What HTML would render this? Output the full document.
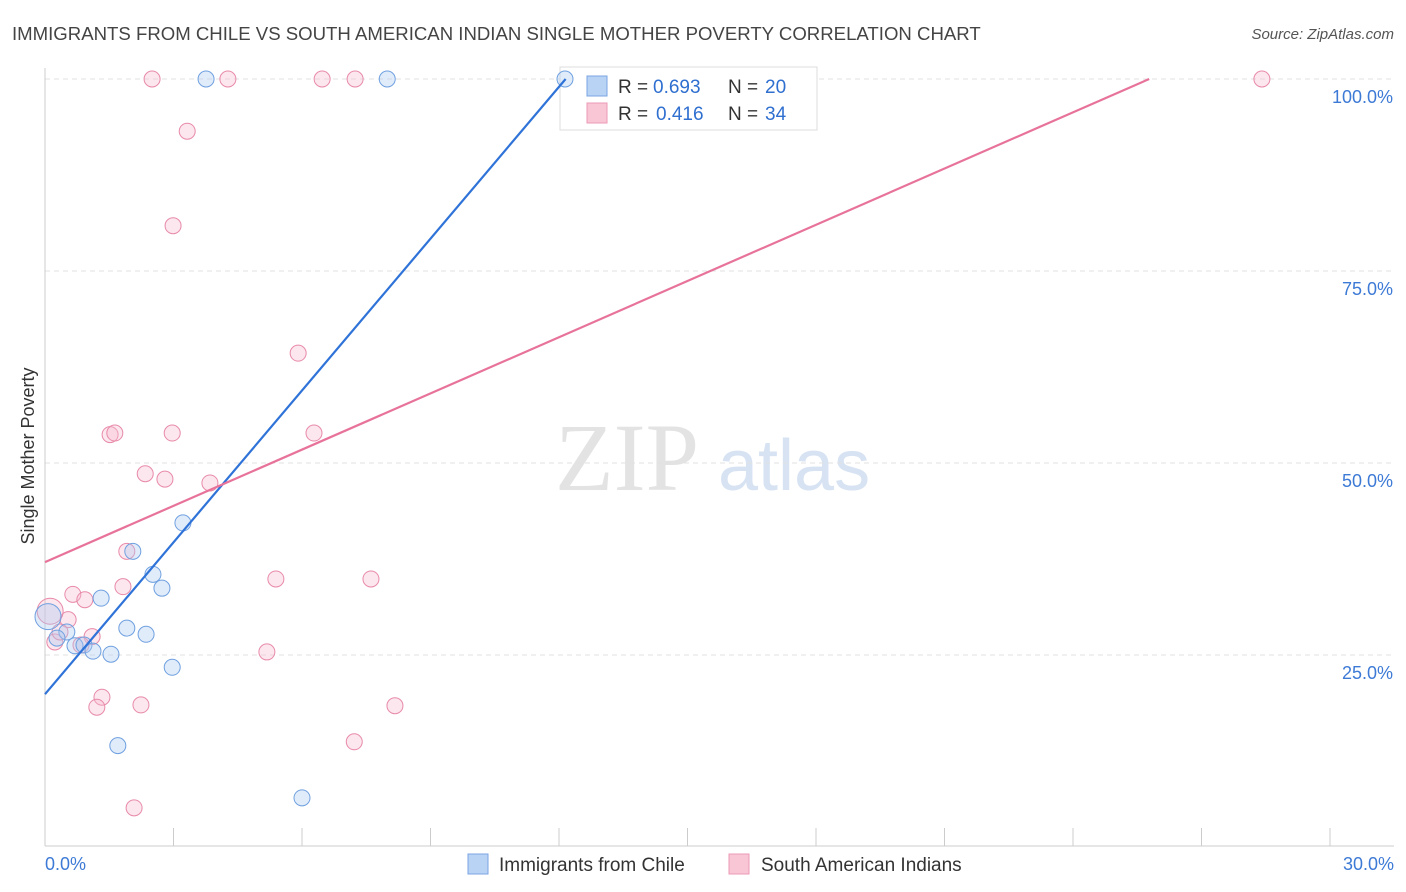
<!DOCTYPE html>
<html><head><meta charset="utf-8"><style>
body{margin:0;background:#fff;font-family:"Liberation Sans",sans-serif;}
svg{display:block}
</style></head><body>
<svg id="chart" width="1406" height="892">
<text x="12" y="40" font-size="18.6" fill="#444">IMMIGRANTS FROM CHILE VS SOUTH AMERICAN INDIAN SINGLE MOTHER POVERTY CORRELATION CHART</text>
<text x="1394" y="39" font-size="15" fill="#555" font-style="italic" text-anchor="end">Source: ZipAtlas.com</text>
<text x="34" y="456" font-size="18" fill="#333" text-anchor="middle" transform="rotate(-90 34 456)">Single Mother Poverty</text>
<text x="555" y="490" font-size="96" fill="#e3e3e3" font-family="Liberation Serif,serif">ZIP</text>
<text x="718" y="490" font-size="72" fill="#d7e3f3">atlas</text>
<g id="grid"></g>
<g>
<rect x="560" y="67" width="257" height="63" fill="#fff" stroke="#ddd"/>
<rect x="587" y="76" width="20" height="20" fill="#b9d3f5" stroke="#7aa6e2"/>
<rect x="587" y="103" width="20" height="20" fill="#f9c6d6" stroke="#ec9ab5"/>
<g font-size="19" fill="#333">
<text x="618" y="93">R =</text>
<text x="653" y="93" fill="#2f6fd0">0.693</text>
<text x="728" y="93">N =</text>
<text x="765" y="93" fill="#2f6fd0">20</text>
<text x="618" y="120">R =</text>
<text x="656" y="120" fill="#2f6fd0">0.416</text>
<text x="728" y="120">N =</text>
<text x="765" y="120" fill="#2f6fd0">34</text>
</g>
</g>
<g id="marks"></g>
<g>
<rect x="468" y="854" width="20" height="20" fill="#b9d3f5" stroke="#7aa6e2"/>
<text x="499" y="871" font-size="19" fill="#333">Immigrants from Chile</text>
<rect x="729" y="854" width="20" height="20" fill="#f9c6d6" stroke="#ec9ab5"/>
<text x="761" y="871" font-size="19" fill="#333">South American Indians</text>
</g>
</svg>
<script>
const blueX=[3.76,7.99,12.14,3.22,2.05,2.52,2.73,1.31,1.91,2.36,0.51,0.28,0.70,0.91,1.12,1.54,2.97,1.70,6.0,0.07];
const blueY=[100,100,100,42.2,38.5,35.5,33.7,32.4,28.5,27.7,28.0,27.2,26.2,26.3,25.5,25.1,23.4,13.2,6.4,30.0];
const pinkX=[2.50,4.27,6.47,7.24,28.41,3.32,2.99,5.91,1.52,1.63,2.97,6.28,2.34,2.80,3.85,1.91,1.82,0.65,0.93,5.39,7.61,0.54,1.10,0.23,0.12,5.18,1.33,1.21,2.24,8.17,7.22,2.08,0.35,0.84];
const pinkY=[100,100,100,100,100,93.2,80.9,64.3,53.7,53.9,53.9,53.9,48.6,47.9,47.4,38.5,33.9,32.9,32.2,34.9,34.9,29.6,27.4,26.7,30.7,25.4,19.5,18.2,18.5,18.4,13.7,5.1,28.0,26.3];
const blueLine=[19.9,6.59];   // intercept, slope
const pinkLine=[37.1,2.44];
const yTicks=[25,50,75,100];
const xTickLabels=["0.0%","30.0%"];
const NS="http://www.w3.org/2000/svg";
const sx=v=>45+v*(1285/30), sy=v=>847-v*7.68;
function mk(t,a,p){const e=document.createElementNS(NS,t);for(const k in a)e.setAttribute(k,a[k]);p.appendChild(e);return e;}
const grid=document.getElementById('grid'), marks=document.getElementById('marks');
yTicks.forEach(t=>{
 const l=mk('line',{x1:45,x2:1394,y1:sy(t),y2:sy(t),stroke:'#e2e2e2','stroke-dasharray':'5,4'},grid);
 
 
 const tx=mk('text',{x:1393,y:sy(t)+24,'font-size':18,fill:'#3d7ad6','text-anchor':'end'},grid);
 tx.textContent=t.toFixed(1)+'%';
 
 
});
mk('line',{x1:45,x2:45,y1:68,y2:846,stroke:'#ccc'},grid);
mk('line',{x1:45,x2:1394,y1:846,y2:846,stroke:'#ccc'},grid);
for(let i=0;i<=10;i++){const x=sx(i*3);mk('line',{x1:x,x2:x,y1:828,y2:846,stroke:'#ccc'},grid);}
[[0,'start',45],[1,'end',1394]].forEach(([i,a,x])=>{const t=mk('text',{x:x,y:870,'font-size':18,fill:'#3d7ad6','text-anchor':a},grid);t.textContent=xTickLabels[i];

});
function pts(X,Y,fill,stroke,name){X.forEach((x,i)=>{const big=(x<0.15&&Y[i]<35);const c=mk('circle',{cx:sx(x),cy:sy(Y[i]),r:big?13:8,fill:fill,'fill-opacity':0.35,stroke:stroke,'stroke-width':1},marks);

});}
pts(pinkX,pinkY,'#f7b9cd','#e88aa8','point-south-american-indians');
pts(blueX,blueY,'#a9c8f0','#6fa0e0','point-immigrants-chile');
function line(p,c,name){const x2=(100-p[0])/p[1];const l=mk('line',{x1:sx(0),y1:sy(p[0]),x2:sx(x2),y2:sy(100),stroke:c,'stroke-width':2.2},marks);

}
line(blueLine,'#2f73d8','trendline-chile');
line(pinkLine,'#e8739a','trendline-indians');
</script>
</body></html>
